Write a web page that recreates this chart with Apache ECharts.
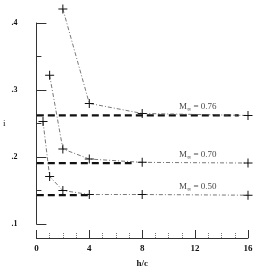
<!DOCTYPE html>
<html><head><meta charset="utf-8">
<script src="https://cdn.jsdelivr.net/npm/echarts@6/dist/echarts.min.js"></script>
<style>html,body{margin:0;padding:0;background:#fff}#c{width:257px;height:273px}</style>
</head><body><div id="c"></div>
<script>
// Data
const hc076 = [2, 4, 8, 16];
const val076 = [0.421, 0.280, 0.265, 0.262];
const hc070 = [1, 2, 4, 8, 16];
const val070 = [0.322, 0.212, 0.197, 0.192, 0.191];
const hc050 = [0.5, 1, 2, 4, 8, 16];
const val050 = [0.253, 0.171, 0.150, 0.144, 0.144, 0.143];
// Asymptotic (h/c -> infinity) levels and the extent of their heavy dashed lines
const machLabels = ['0.76', '0.70', '0.50'];
const infLevels = [0.262, 0.191, 0.143];
const infStart = [-0.8, -0.8, -0.8];
const infEnd = [15.3, 7.2, 4.0];
const labelHc = 12.2;
const yTicks = [0.1, 0.2, 0.3, 0.4];
const xTicks = [0, 4, 8, 12, 16];

const plus = 'path://M4,0h1v4h4v1h-4v4h-1v-4h-4v-1h4z';
const font = 'Liberation Serif';

function pts(xs, ys) { return xs.map((x, i) => [x, ys[i]]); }

const series = [];
[[hc076, val076], [hc070, val070], [hc050, val050]].forEach(([xs, ys]) => {
  series.push({
    type: 'line', data: pts(xs, ys), clip: false,
    symbol: plus, symbolSize: 9, showSymbol: true,
    itemStyle: { color: '#111' },
    lineStyle: { color: '#555', width: 0.8, type: [4, 2, 1, 2] },
    z: 3
  });
});
infLevels.forEach((lv, i) => {
  series.push({
    type: 'line', data: [[infStart[i], lv], [infEnd[i], lv]], clip: false,
    symbol: 'none',
    lineStyle: { color: '#111', width: 2.2, type: [7, 4] },
    z: 2
  });
  series.push({
    type: 'scatter', data: [[labelHc, lv]], clip: false, symbolSize: 0,
    label: {
      show: true, position: 'top', distance: 3,
      formatter: '{m|M}{s|∞}{t| = ' + machLabels[i] + '}',
      rich: {
        m: { fontFamily: font, fontSize: 9, color: '#111' },
        s: { fontFamily: font, fontSize: 6, color: '#111', padding: [5, 0, 0, 0] },
        t: { fontFamily: font, fontSize: 9, color: '#111' }
      }
    },
    z: 4
  });
});

const chart = echarts.init(document.getElementById('c'), null, { renderer: 'canvas' });
chart.setOption({
  animation: false,
  backgroundColor: '#fff',
  grid: { left: 33, right: 9, top: 23, bottom: 39, show: false },
  xAxis: {
    type: 'value', min: xTicks[0], max: xTicks[xTicks.length - 1], interval: 4,
    offset: 14,
    name: 'h/c', nameLocation: 'middle', nameGap: 21,
    nameTextStyle: { fontFamily: font, fontSize: 9, fontWeight: 'bold', color: '#111' },
    axisLine: { show: true, lineStyle: { color: '#333', width: 1 } },
    axisTick: { show: true, inside: true, length: 8, lineStyle: { color: '#333' } },
    minorTick: { show: true, splitNumber: 4, length: 5, lineStyle: { color: '#777', type: 'dotted' } },
    axisLabel: { fontFamily: font, fontSize: 9, fontWeight: 'bold', color: '#111', margin: 6 },
    splitLine: { show: false }
  },
  yAxis: {
    type: 'value', min: yTicks[0], max: yTicks[yTicks.length - 1], interval: 0.1,
    offset: 15,
    name: 'i', nameLocation: 'middle', nameGap: 14, nameRotate: 0,
    nameTextStyle: { fontFamily: font, fontSize: 9, color: '#111' },
    axisLine: { show: true, lineStyle: { color: '#333', width: 1 } },
    axisTick: { show: true, inside: true, length: 10, lineStyle: { color: '#333' } },
    minorTick: { show: true, splitNumber: 2, length: 5, lineStyle: { color: '#333' } },
    axisLabel: {
      fontFamily: font, fontSize: 8, fontWeight: 'bold', color: '#111', margin: 4,
      formatter: v => v.toFixed(1).replace(/^0/, '')
    },
    splitLine: { show: false }
  },
  series: series
});
</script></body></html>
